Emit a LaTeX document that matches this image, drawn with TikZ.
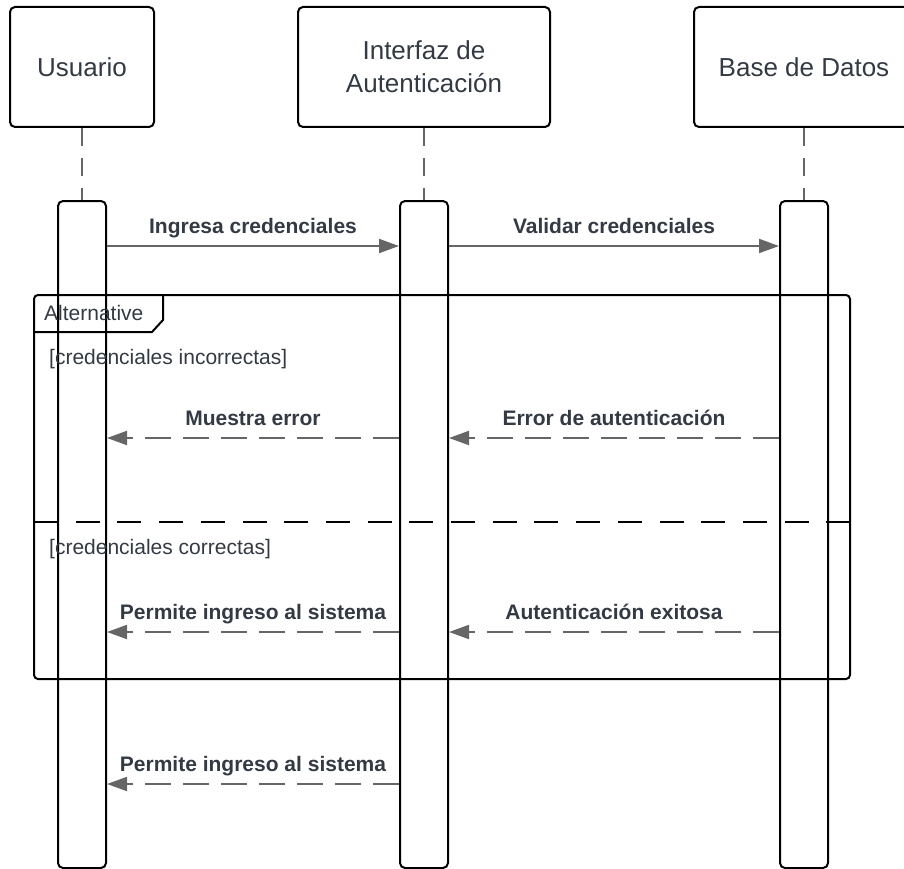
\documentclass[tikz,border=0pt]{standalone}
\usepackage{fontspec}
\setmainfont{Liberation Sans}
\usetikzlibrary{arrows.meta,positioning}
\definecolor{inkgray}{HTML}{333A44}
\definecolor{msggray}{HTML}{666666}
\tikzset{
  head/.style={draw, line width=2pt, rounded corners=5pt, minimum height=120pt,
    text=inkgray, font=\fontsize{26}{33}\selectfont, align=center},
  bar/.style={draw, line width=2pt, rounded corners=5pt, minimum width=48pt, minimum height=667pt},
  life/.style={msggray, line width=2pt, dash pattern=on 18pt off 12pt},
  call/.style={msggray, line width=2pt, -{Triangle[length=20pt,width=14pt]}},
  reply/.style={call, dash pattern=on 26pt off 12pt},
  lbl/.style={midway, anchor=base, yshift=13pt, text=inkgray, font=\fontsize{21}{25}\selectfont\bfseries},
  guard/.style={anchor=west, inner sep=0pt, text=inkgray, font=\fontsize{21}{25}\selectfont}
}

\begin{document}
\begin{tikzpicture}[x=1pt, y=-1pt]
    \useasboundingbox (0,0) rectangle (904,869);
    \clip (0,0) rectangle (904,869);

    % participants
    \node (usr) [head, minimum width=144pt] at (82,67) {Usuario};
    \node (int) [head, minimum width=252pt] at (424,67) {Interfaz de\\Autenticación};
    \node (bd)  [head, minimum width=220pt] at (804,67) {Base de Datos};

    \node (usrbar) [bar, below=72pt of usr] {};
    \node (intbar) [bar, below=72pt of int] {};
    \node (bdbar)  [bar, below=72pt of bd] {};

    \draw[life] (usr) -- (usrbar);
    \draw[life] (int) -- (intbar);
    \draw[life] (bd) -- (bdbar);

    % alternative frame
    \draw[line width=2pt, rounded corners=4pt] (34,295) rectangle (850,679);
    \draw[line width=2pt] (34,332) -- (152,332) -- (163,320) -- (163,295);
    \node (alt) [guard] at (44,313) {Alternative};
    \node (g1) [guard] at (49,359) {[credenciales incorrectas]};
    \draw[line width=2pt, dash pattern=on 24pt off 17.7pt] (34,522) -- (850,522);
    \node (g2) [guard] at (49,549) {[credenciales correctas]};

    % messages
    \coordinate (m1) at (0,246);
    \coordinate (m2) at (0,438);
    \coordinate (m3) at (0,632);
    \coordinate (m4) at (0,784);

    \draw[call] (usrbar.east |- m1) -- (intbar.west |- m1) node[lbl] {Ingresa credenciales};
    \draw[call] (intbar.east |- m1) -- (bdbar.west |- m1) node[lbl] {Validar credenciales};
    \draw[reply] (intbar.west |- m2) -- (usrbar.east |- m2) node[lbl] {Muestra error};
    \draw[reply] (bdbar.west |- m2) -- (intbar.east |- m2) node[lbl] {Error de autenticación};
    \draw[reply] (intbar.west |- m3) -- (usrbar.east |- m3) node[lbl] {Permite ingreso al sistema};
    \draw[reply] (bdbar.west |- m3) -- (intbar.east |- m3) node[lbl] {Autenticación exitosa};
    \draw[reply] (intbar.west |- m4) -- (usrbar.east |- m4) node[lbl] {Permite ingreso al sistema};
\end{tikzpicture}
\end{document}
